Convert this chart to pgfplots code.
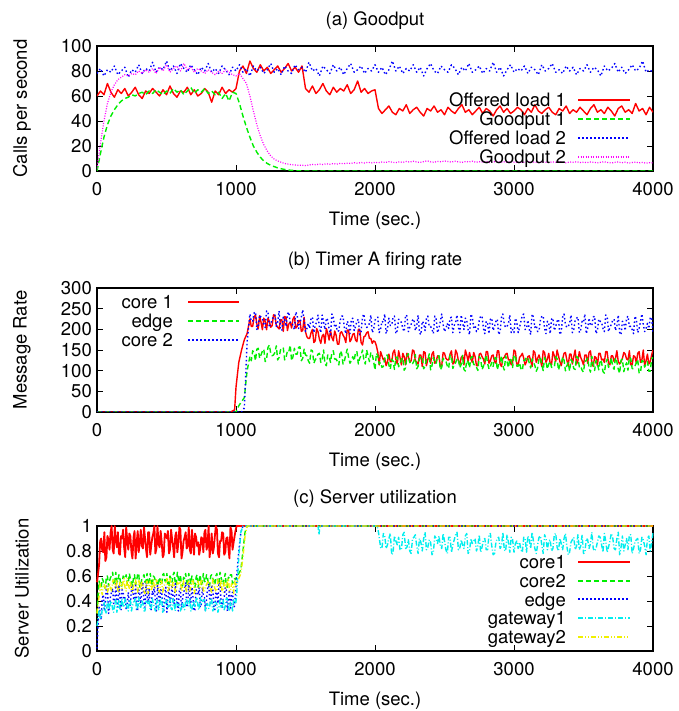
\documentclass[border=0pt]{standalone}
\usepackage{fontspec}
\setmainfont{TeX Gyre Heros}
\usepackage{pgfplots}
\usepackage{pgfplotstable}
\pgfplotsset{compat=1.18}

\definecolor{gpred}{RGB}{255,0,0}
\definecolor{gpgreen}{RGB}{0,238,0}
\definecolor{gpblue}{RGB}{0,0,255}
\definecolor{gpmagenta}{RGB}{255,0,255}
\definecolor{gpcyan}{RGB}{0,238,238}
\definecolor{gpyellow}{RGB}{240,240,0}

% (a) goodput: time, offered load 1, goodput 1, offered load 2, goodput 2
\pgfplotstableread{
x ol1 gp1 ol2 gp2
0 60 0 78 2
25 64 14 82 22
50 61 27 76 40
75 70 37 81 54
100 63 44 79 63
125 59 49 84 69
150 65 53 77 73
175 62 56 80 75
200 66 58 83 77
225 60 59 75 76
250 63 61 81 78
275 67 60 79 77
300 61 62 85 80
325 58 63 78 78
350 64 61 82 81
375 62 64 80 79
400 66 62 87 82
425 63 65 79 78
450 60 63 83 83
475 65 61 81 80
500 61 64 88 85
525 68 62 80 79
550 62 66 84 82
575 59 63 78 84
600 64 65 86 80
625 63 61 82 86
650 67 64 79 81
675 61 67 85 83
700 65 62 81 79
725 60 65 77 82
750 62 63 83 80
775 66 66 80 78
800 63 62 86 81
825 55 64 79 79
850 64 61 82 77
875 61 63 78 80
900 67 58 84 78
925 62 62 81 81
950 65 56 77 79
975 63 63 83 77
1000 66 62 80 76
1025 80 54 85 78
1050 84 44 79 74
1075 78 35 82 70
1100 88 27 76 60
1125 82 20 84 48
1150 79 15 80 37
1175 85 11 83 28
1200 80 8 78 21
1225 83 6 81 16
1250 78 4.5 86 12
1275 81 3.5 79 9.5
1300 84 2.5 82 8
1325 79 1.8 77 7
1350 82 1.2 84 6
1375 86 0.8 80 5.5
1400 80 0.5 78 5
1425 83 0.3 85 4.8
1450 79 0.1 81 4.5
1475 84 0 83 4.6
1500 66 0 79 4.3
1525 63 0 87 4.8
1550 68 0 80 5.3
1575 62 0 82 5.0
1600 65 0 76 5.6
1625 70 0 84 5.2
1650 64 0 81 5.8
1675 61 0 78 5.4
1700 67 0 85 6.0
1725 63 0 80 5.5
1750 66 0 83 6.1
1775 64 0 77 5.8
1800 69 0 82 6.3
1825 62 0 86 6.0
1850 65 0 79 6.6
1875 72 0 81 6.2
1900 63 0 84 6.8
1925 66 0 78 6.4
1950 62 0 82 7.0
1975 64 0 80 6.5
2000 65 0 85 6.9
2025 50 0 79 6.6
2050 46 0 83 7.2
2075 49 0 77 6.8
2100 52 0 81 7.5
2125 47 0 88 7.0
2150 45 0 80 6.7
2175 50 0 84 7.3
2200 48 0 78 6.9
2225 53 0 82 7.6
2250 46 0 80 7.1
2275 49 0 85 7.8
2300 51 0 79 7.2
2325 47 0 83 6.9
2350 44 0 76 7.5
2375 50 0 82 8.1
2400 48 0 86 7.3
2425 52 0 80 7.0
2450 47 0 78 7.7
2475 49 0 84 7.4
2500 45 0 81 8.0
2525 51 0 79 7.6
2550 48 0 85 7.1
2575 46 0 82 7.8
2600 50 0 77 7.3
2625 53 0 83 6.9
2650 47 0 80 7.5
2675 49 0 86 7.2
2700 45 0 79 7.9
2725 48 0 81 7.0
2750 51 0 84 7.4
2775 46 0 78 7.1
2800 50 0 82 7.7
2825 48 0 80 6.8
2850 44 0 87 7.3
2875 49 0 79 7.6
2900 52 0 83 7.0
2925 47 0 76 7.4
2950 50 0 81 6.9
2975 46 0 85 7.5
3000 48 0 79 7.1
3025 51 0 82 6.8
3050 49 0 80 7.3
3075 45 0 84 7.0
3100 50 0 78 7.6
3125 47 0 83 6.9
3150 53 0 81 7.2
3175 48 0 77 6.7
3200 46 0 85 7.4
3225 49 0 80 7.0
3250 51 0 82 6.8
3275 47 0 86 7.3
3300 45 0 79 6.9
3325 50 0 81 7.5
3350 48 0 78 7.0
3375 52 0 84 6.6
3400 46 0 80 7.2
3425 49 0 83 6.9
3450 47 0 77 7.4
3475 51 0 82 6.8
3500 48 0 80 7.1
3525 45 0 85 6.7
3550 50 0 79 7.2
3575 53 0 83 6.9
3600 47 0 81 6.5
3625 49 0 76 7.0
3650 46 0 84 7.3
3675 51 0 80 6.8
3700 48 0 82 6.4
3725 44 0 86 6.9
3750 50 0 79 7.2
3775 52 0 83 6.6
3800 47 0 78 7.0
3825 49 0 81 6.3
3850 46 0 85 6.8
3875 54 0 80 7.1
3900 48 0 82 6.5
3925 50 0 88 6.9
3950 45 0 79 6.2
3975 51 0 81 6.7
4000 47 0 79 6.4
}\tabA

% (b) timer A firing rate
\pgfplotstableread{
x core1 edge core2
0 0 0 0
960 0 0 0
990 5 0 0
1000 60 0 0
1020 120 15 0
1040 150 25 0
1060 175 35 10
1080 190 100 170
1100 225 134 237
1110 207 124 219.5
1120 207 148 219.5
1130 229 144 239.5
1140 235 124 242
1150 213 152 199.5
1160 201 154 207
1170 233 130 234.5
1180 217 138 229.5
1190 199 148 227
1200 227 152 212
1210 219 122 204.5
1220 199 128 244.5
1230 227 156 242
1240 219 162 204.5
1250 205 142 214.5
1260 209 136 222
1270 235 138 232
1280 233 144 234.5
1290 209 160 207
1300 205 126 217
1310 201 132 244.5
1320 223 150 202
1330 223 154 197
1340 195 156 229.5
1350 231 126 224.5
1360 229 132 207
1370 197 148 237
1380 213 146 242
1390 217 162 217
1400 203 124 217
1410 225 134 209.5
1420 231 154 199.5
1430 203 140 242
1440 207 140 234.5
1450 221 156 202
1460 221 158 212
1470 195 124 229.5
1480 197 130 247
1490 229 152 222
1500 194 138 194.5
1510 182 136 202
1520 178 124 214.5
1530 178 118 202
1540 192 150 227
1550 200 148 229.5
1560 168 118 192
1570 172 126 209.5
1580 202 132 217
1590 194 140 234.5
1600 176 142 204.5
1610 166 120 192
1620 184 128 234.5
1630 188 150 217
1640 166 116 199.5
1650 202 112 227
1660 190 138 222
1670 174 134 199.5
1680 196 120 187
1690 180 144 237
1700 172 148 229.5
1710 196 128 204.5
1720 186 128 209.5
1730 164 122 194.5
1740 164 114 197
1750 192 148 222
1760 194 142 232
1770 186 116 232
1780 180 124 202
1790 168 138 189.5
1800 198 152 219.5
1810 198 132 214.5
1820 170 118 189.5
1830 176 124 224.5
1840 188 134 227
1850 190 124 197
1860 174 144 207
1870 170 146 219.5
1880 200 116 224.5
1890 200 130 187
1900 168 136 194.5
1910 162 150 229.5
1920 182 126 237
1930 184 116 212
1940 192 150 204.5
1950 194 136 207
1960 178 122 214.5
1970 178 144 234.5
1980 166 140 192
1990 172 122 199.5
2000 170 102 222
2010 160 142 227
2020 145 136 229.5
2030 114 116 192
2040 146 120 199.5
2050 136 108 219.5
2060 126 110 217
2070 130 130 237
2080 112 138 189.5
2090 122 137.5 202
2100 140 113.5 227
2110 122 103.5 209.5
2120 122 127.5 209.5
2130 144 123.5 229.5
2140 150 103 232
2150 128 131.5 189.5
2160 116 133 197
2170 148 109.5 224.5
2180 132 117 219.5
2190 114 127.5 217
2200 142 131 202
2210 134 101 194.5
2220 114 107 234.5
2230 142 135 232
2240 134 141 194.5
2250 120 121 204.5
2260 124 115 212
2270 150 117 222
2280 148 123 224.5
2290 124 139 197
2300 120 104.5 207
2310 116 110.5 234.5
2320 138 128.5 192
2330 138 132.5 187
2340 110 134.5 219.5
2350 146 104.5 214.5
2360 144 110.5 197
2370 112 126.5 227
2380 128 124.5 232
2390 132 140.5 207
2400 118 102 207
2410 140 112 199.5
2420 146 132 189.5
2430 118 118 232
2440 122 118 224.5
2450 136 134 192
2460 136 136 202
2470 110 102 219.5
2480 112 108 237
2490 144 130 212
2500 142 125.5 194.5
2510 130 123.5 202
2520 126 111.5 214.5
2530 126 105.5 202
2540 140 137.5 227
2550 148 135.5 229.5
2560 116 105.5 192
2570 120 113.5 209.5
2580 150 119.5 217
2590 142 127.5 234.5
2600 124 129 204.5
2610 114 107 192
2620 132 115 234.5
2630 136 137 217
2640 114 103 199.5
2650 150 99 227
2660 138 125 222
2670 122 121 199.5
2680 144 107 187
2690 128 131 237
2700 120 134.5 229.5
2710 144 114.5 204.5
2720 134 114.5 209.5
2730 112 108.5 194.5
2740 112 100.5 197
2750 140 134.5 222
2760 142 128.5 232
2770 134 102.5 232
2780 128 110.5 202
2790 116 124.5 189.5
2800 146 138 219.5
2810 146 118 214.5
2820 118 104 189.5
2830 124 110 224.5
2840 136 120 227
2850 138 110 197
2860 122 130 207
2870 118 132 219.5
2880 148 102 224.5
2890 148 116 187
2900 116 121.5 194.5
2910 110 135.5 229.5
2920 130 111.5 237
2930 132 101.5 212
2940 140 135.5 204.5
2950 142 121.5 207
2960 126 107.5 214.5
2970 126 129.5 234.5
2980 114 125.5 192
2990 120 107.5 199.5
3000 150 137 192
3010 146 137 227
3020 116 111 217
3030 114 111 192
3040 132 119 204.5
3050 136 103 219.5
3060 142 101 234.5
3070 130 125 237
3080 114 125 199.5
3090 122 133 202
3100 134 130.5 222
3110 136 118.5 199.5
3120 124 106.5 187
3130 110 128.5 237
3140 148 120.5 229.5
3150 144 112.5 204.5
3160 120 98.5 209.5
3170 130 106.5 194.5
3180 138 128.5 197
3190 126 132.5 222
3200 110 114 232
3210 148 100 232
3220 144 132 202
3230 120 122 189.5
3240 128 104 219.5
3250 142 116 214.5
3260 118 122 189.5
3270 114 108 224.5
3280 146 108 227
3290 136 108 197
3300 122 133.5 207
3310 150 129.5 219.5
3320 136 101.5 224.5
3330 122 113.5 187
3340 112 115.5 194.5
3350 128 133.5 229.5
3360 142 125.5 237
3370 144 99.5 212
3380 126 111.5 204.5
3390 112 119.5 207
3400 140 99 214.5
3410 140 127 234.5
3420 116 121 192
3430 134 105 199.5
3440 150 103 222
3450 116 135 227
3460 124 131 229.5
3470 146 109 192
3480 132 111 199.5
3490 124 101 219.5
3500 114 96.5 217
3510 138 122.5 237
3520 138 124.5 189.5
3530 118 130.5 202
3540 144 106.5 227
3550 148 96.5 209.5
3560 120 134.5 209.5
3570 110 116.5 229.5
3580 134 100.5 232
3590 132 124.5 189.5
3600 112 116 197
3610 142 102 224.5
3620 142 126 219.5
3630 126 120 217
3640 128 98 202
3650 120 94 194.5
3660 146 118 234.5
3670 146 128 232
3680 118 108 194.5
3690 114 114 204.5
3700 136 131.5 212
3710 136 109.5 222
3720 122 103.5 224.5
3730 130 131.5 197
3740 148 121.5 207
3750 122 103.5 234.5
3760 116 93.5 192
3770 122 125.5 187
3780 130 127.5 219.5
3790 144 97.5 214.5
3800 140 111 197
3810 128 119 227
3820 126 101 232
3830 148 133 207
3840 114 129 207
3850 114 105 199.5
3860 136 105 189.5
3870 134 111 232
3880 118 119 224.5
3890 142 127 192
3900 146 94.5 202
3910 120 94.5 219.5
3920 126 124.5 237
3930 150 122.5 212
3940 112 108.5 194.5
3950 124 116.5 202
3960 140 122.5 214.5
3970 116 98.5 202
3980 122 98.5 227
3990 138 128.5 229.5
4000 150 132 192
}\tabB

% (c) server utilization
\pgfplotstableread{
x core1 core2 edge gw1 gw2
0 .55 .30 .02 .20 .30
8 .62 .45 .22 .26 .38
15 .69 .56 .35 .33 .44
23 .88 .51 .31 .26 .54
30 .90 .51 .25 .26 .49
38 .80 .58 .42 .34 .45
45 .79 .56 .45 .34 .53
53 .95 .52 .32 .39 .53
60 .72 .50 .39 .32 .50
68 .75 .60 .52 .30 .52
75 .92 .60 .51 .40 .47
83 .89 .52 .30 .37 .50
90 .81 .56 .35 .33 .54
98 .95 .59 .44 .40 .50
105 1.00 .60 .47 .39 .48
113 .81 .63 .50 .33 .56
120 .78 .53 .38 .31 .57
128 1.00 .55 .41 .39 .51
135 .88 .63 .54 .41 .51
143 .83 .56 .37 .31 .57
150 .95 .55 .35 .36 .47
158 .78 .61 .53 .41 .47
165 .77 .58 .43 .33 .55
173 .92 .52 .33 .37 .53
180 .90 .52 .49 .42 .50
188 .97 .60 .47 .36 .56
195 .83 .59 .41 .35 .58
203 .75 .58 .43 .42 .49
210 .99 .61 .33 .39 .48
218 .88 .53 .38 .34 .58
225 .81 .54 .47 .32 .53
233 .94 .62 .38 .41 .50
240 .92 .58 .36 .41 .56
248 .79 .55 .51 .32 .48
255 .74 .52 .53 .36 .47
263 .91 .59 .42 .39 .54
270 .96 .61 .41 .40 .53
278 .74 .53 .54 .43 .57
285 .86 .56 .32 .33 .50
293 .96 .62 .33 .35 .47
300 .79 .62 .49 .43 .57
308 .87 .51 .45 .36 .53
315 .97 .53 .38 .35 .49
323 .84 .58 .50 .41 .55
330 .82 .59 .55 .38 .54
338 .99 .61 .37 .32 .48
345 .91 .55 .35 .32 .46
353 .81 .56 .55 .40 .54
360 .75 .62 .44 .39 .56
368 .95 .54 .39 .38 .46
375 .95 .53 .50 .41 .51
383 .77 .62 .35 .33 .56
390 .84 .57 .33 .34 .48
398 .91 .52 .48 .42 .52
405 .94 .60 .45 .38 .57
413 1.00 .59 .53 .35 .51
420 .78 .56 .39 .32 .50
428 .82 .57 .32 .39 .57
435 1.00 .52 .54 .41 .54
443 .86 .55 .44 .33 .49
450 .83 .59 .37 .36 .47
458 .96 .55 .49 .42 .56
465 .88 .53 .48 .42 .56
473 .75 .61 .36 .31 .47
480 .77 .62 .31 .33 .51
488 .94 .56 .47 .38 .54
495 .92 .56 .51 .39 .55
503 .90 .62 .31 .41 .58
510 .96 .52 .42 .35 .48
518 .78 .52 .51 .36 .50
525 .81 .60 .36 .42 .58
533 .97 .58 .43 .34 .51
540 .90 .55 .53 .33 .50
548 .83 .61 .41 .42 .56
555 .75 .63 .38 .37 .53
563 .92 .54 .54 .32 .47
570 .95 .53 .47 .40 .47
578 .79 .63 .37 .39 .55
585 .86 .58 .32 .36 .54
593 .99 .55 .50 .37 .53
600 .97 .61 .50 .32 .56
608 .74 .53 .33 .35 .48
615 .79 .52 .41 .39 .49
623 .88 .59 .47 .35 .57
630 .91 .58 .49 .33 .53
638 .95 .62 .55 .41 .50
645 .82 .55 .35 .42 .47
653 .84 .52 .38 .36 .54
660 .99 .62 .55 .36 .56
668 .81 .58 .42 .42 .48
675 .78 .54 .39 .32 .51
683 .97 .60 .51 .32 .57
690 .87 .59 .44 .40 .57
698 .77 .53 .32 .38 .46
705 .94 .51 .33 .35 .48
713 .91 .59 .49 .41 .53
720 .84 .61 .48 .43 .54
728 .87 .51 .45 .34 .56
735 .77 .56 .51 .33 .50
743 .82 .61 .35 .43 .51
750 .91 .53 .37 .38 .57
758 .90 .55 .51 .38 .57
765 .79 .62 .45 .41 .48
773 .95 .56 .43 .41 .47
780 .97 .55 .32 .32 .52
788 .81 .61 .41 .36 .53
795 .84 .59 .50 .38 .55
803 1.00 .52 .54 .34 .56
810 .75 .52 .42 .35 .51
818 .83 .60 .37 .42 .49
825 .94 .61 .53 .42 .47
833 .78 .58 .50 .32 .58
840 .82 .56 .36 .34 .54
848 .92 .53 .33 .39 .50
855 1.00 .60 .47 .39 .48
863 .97 .62 .47 .37 .48
870 .78 .53 .38 .31 .57
878 .75 .55 .55 .35 .54
885 .88 .63 .54 .41 .51
893 .88 .59 .38 .35 .57
900 .95 .55 .35 .36 .47
908 .94 .53 .42 .41 .47
915 .77 .58 .43 .33 .55
923 .79 .62 .51 .36 .53
930 .90 .52 .49 .42 .50
938 .91 .51 .32 .42 .55
945 .83 .59 .41 .35 .58
953 .74 .58 .49 .32 .48
960 .99 .61 .33 .39 .48
968 .96 .61 .45 .38 .54
975 .81 .54 .47 .32 .53
983 .87 .56 .35 .41 .46
990 .92 .58 .36 .41 .56
998 .97 .57 .48 .38 .52
1005 1.00 .60 .60 .45 .55
1020 1.00 .62 .80 .75 .58
1035 1.00 .65 .95 .95 .62
1050 1.00 .80 1.00 1.00 .75
1065 1.00 .95 1.00 1.00 .92
1080 1.00 1.00 1.00 1.00 1.00
4000 1.00 1.00 1.00 nan 1.00
}\tabC

% gateway1 after the overload
\pgfplotstableread{
x gw1
1080 1
1590 1
1597 0.93
1604 1
2015 1
2025 0.95
2040 .83
2050 .82
2060 .94
2070 .92
2080 .82
2090 .85
2100 .90
2110 .94
2120 .77
2130 .79
2140 .92
2150 .88
2160 .85
2170 .91
2180 .81
2190 .81
2200 .93
2210 .95
2220 .82
2230 .83
2240 .89
2250 .80
2260 .78
2270 .90
2280 .91
2290 .93
2300 .84
2310 .78
2320 .90
2330 .87
2340 .80
2350 .90
2360 .95
2370 .81
2380 .83
2390 .89
2400 .87
2410 .77
2420 .79
2430 .92
2440 .90
2450 .86
2460 .92
2470 .84
2480 .82
2490 .94
2500 .88
2510 .81
2520 .78
2530 .91
2540 .91
2550 .79
2560 .85
2570 .89
2580 .93
2590 .95
2600 .81
2610 .82
2620 .89
2630 .85
2640 .82
2650 .92
2660 .94
2670 .78
2680 .80
2690 .90
2700 .86
2710 .88
2720 .90
2730 .80
2740 .84
2750 .93
2760 .79
2770 .83
2780 .89
2790 .90
2800 .81
2810 .81
2820 .93
2830 .94
2840 .84
2850 .77
2860 .78
2870 .87
2880 .90
2890 .91
2900 .82
2910 .84
2920 .95
2930 .81
2940 .80
2950 .93
2960 .87
2970 .79
2980 .91
2990 .89
3000 .79
3010 .86
3020 .88
3030 .82
3040 .87
3050 .81
3060 .79
3070 .91
3080 .90
3090 .79
3100 .92
3110 .89
3120 .82
3130 .95
3140 .88
3150 .82
3160 .78
3170 .85
3180 .91
3190 .92
3200 .85
3210 .78
3220 .93
3230 .90
3240 .81
3250 .88
3260 .89
3270 .80
3280 .82
3290 .93
3300 .94
3310 .83
3320 .80
3330 .90
3340 .86
3350 .81
3360 .90
3370 .94
3380 .84
3390 .77
3400 .79
3410 .87
3420 .89
3430 .91
3440 .81
3450 .84
3460 .93
3470 .81
3480 .84
3490 .93
3500 .78
3510 .79
3520 .90
3530 .89
3540 .82
3550 .86
3560 .95
3570 .82
3580 .80
3590 .82
3600 .87
3610 .92
3620 .91
3630 .85
3640 .79
3650 .94
3660 .88
3670 .79
3680 .83
3690 .88
3700 .94
3710 .91
3720 .82
3730 .81
3740 .90
3750 .95
3760 .77
3770 .83
3780 .92
3790 .80
3800 .85
3810 .90
3820 .81
3830 .93
3840 .93
3850 .78
3860 .82
3870 .87
3880 .89
3890 .90
3900 .78
3910 .81
3920 .91
3930 .89
3940 .84
3950 .77
3960 .90
3970 .92
3980 .80
3990 .86
4000 .95
}\tabCgw

\tikzset{
  lred/.style={draw=gpred, line width=1.4pt, solid, line join=round},
  lgreen/.style={draw=gpgreen, line width=1.4pt, dash pattern=on 5pt off 3pt, line join=round},
  lblue/.style={draw=gpblue, line width=1.4pt, dash pattern=on 1.5pt off 2.5pt, line join=round},
  lmag/.style={draw=gpmagenta, line width=1.2pt, dash pattern=on 1pt off 1.5pt, line join=round},
  lcyan/.style={draw=gpcyan, line width=1.4pt, dash pattern=on 5pt off 2pt on 1pt off 2pt, line join=round},
  lyel/.style={draw=gpyellow, line width=1.4pt, dash pattern=on 5pt off 2pt on 1pt off 2pt on 1pt off 2pt, line join=round},
  keytext/.style={anchor=base east, inner sep=0pt},
}

% one legend row: text right edge at x, sample line from x1 to x2, at height y (axis description cs)
\newcommand{\keyrow}[6]{%
  \node[keytext] at ([yshift=-6.6pt]axis description cs:#1,#4) {#6};
  \draw[#5, line width=2pt] (axis description cs:#2,#4) -- (axis description cs:#3,#4);
}

\pgfplotsset{
  every axis title shift=0pt,
  gp/.style={
    scale only axis, width=556pt,
    xmin=0, xmax=4000, xtick={0,1000,2000,3000,4000},
    scaled ticks=false,
    /pgf/number format/1000 sep={},
    /pgf/number format/assume math mode=true,
    tick align=inside, major tick length=6pt,
    axis line style={line width=1.1pt},
    every tick/.style={black, line width=0.9pt},
    xticklabel style={anchor=center, inner sep=0pt, yshift=-18pt},
    yticklabel style={anchor=east, inner sep=0pt, xshift=-5pt},
    xlabel={Time (sec.)},
  },
}

\begin{document}
\fontsize{18.5}{22}\selectfont
\begin{tikzpicture}
\useasboundingbox (0,0) rectangle (678pt,711pt);

\begin{axis}[gp, at={(97pt,540pt)}, anchor=south west, height=125pt,
    ymin=0, ymax=100, ytick={0,20,40,60,80,100},
    title={(a) Goodput}, title style={at={(axis description cs:0.5,1.203)}, anchor=center},
    xlabel style={at={(axis description cs:0.5,-0.397)}, anchor=center},
    ylabel={Calls per second},
    ylabel style={at={(axis description cs:-0.135,0.5)}, anchor=center}]
  \addplot[lred] table[x=x, y=ol1] {\tabA};
  \addplot[lgreen] table[x=x, y=gp1] {\tabA};
  \addplot[lblue] table[x=x, y=ol2] {\tabA};
  \addplot[lmag] table[x=x, y=gp2] {\tabA};
  \keyrow{0.8435}{0.8651}{0.9586}{0.568}{lred}{Offered load 1}
  \keyrow{0.8435}{0.8651}{0.9586}{0.416}{lgreen}{Goodput 1}
  \keyrow{0.8435}{0.8651}{0.9586}{0.264}{lblue}{Offered load 2}
  \keyrow{0.8435}{0.8651}{0.9586}{0.112}{lmag}{Goodput 2}
\end{axis}

\begin{axis}[gp, at={(97pt,299pt)}, anchor=south west, height=124pt,
    ymin=0, ymax=300, ytick={0,50,100,150,200,250,300},
    title={(b) Timer A firing rate}, title style={at={(axis description cs:0.5,1.221)}, anchor=center},
    xlabel style={at={(axis description cs:0.5,-0.40)}, anchor=center},
    ylabel={Message Rate},
    ylabel style={at={(axis description cs:-0.135,0.5)}, anchor=center}]
  \addplot[lred] table[x=x, y=core1] {\tabB};
  \addplot[lgreen] table[x=x, y=edge] {\tabB};
  \addplot[lblue] table[x=x, y=core2] {\tabB};
  \keyrow{0.1367}{0.1637}{0.2554}{0.887}{lred}{core 1}
  \keyrow{0.1367}{0.1637}{0.2554}{0.734}{lgreen}{edge}
  \keyrow{0.1367}{0.1637}{0.2554}{0.581}{lblue}{core 2}
\end{axis}

\begin{axis}[gp, at={(97pt,60pt)}, anchor=south west, height=125pt,
    ymin=0, ymax=1, ytick={0,0.2,0.4,0.6,0.8,1},
    unbounded coords=jump, clip=false,
    title={(c) Server utilization}, title style={at={(axis description cs:0.5,1.219)}, anchor=center},
    xlabel style={at={(axis description cs:0.5,-0.397)}, anchor=center},
    ylabel={Server Utilization},
    ylabel style={at={(axis description cs:-0.135,0.5)}, anchor=center}]
  \addplot[lred, line width=1.8pt] table[x=x, y=core1] {\tabC};
  \addplot[lgreen] table[x=x, y=core2] {\tabC};
  \addplot[lblue] table[x=x, y=edge] {\tabC};
  \addplot[lcyan] table[x=x, y=gw1] {\tabC};
  \addplot[lcyan] table[x=x, y=gw1] {\tabCgw};
  \addplot[lyel] table[x=x, y=gw2] {\tabC};
  \keyrow{0.8435}{0.8651}{0.9586}{0.712}{lred}{core1}
  \keyrow{0.8435}{0.8651}{0.9586}{0.562}{lgreen}{core2}
  \keyrow{0.8435}{0.8651}{0.9586}{0.412}{lblue}{edge}
  \keyrow{0.8435}{0.8651}{0.9586}{0.262}{lcyan}{gateway1}
  \keyrow{0.8435}{0.8651}{0.9586}{0.112}{lyel}{gateway2}
\end{axis}
\end{tikzpicture}
\end{document}
